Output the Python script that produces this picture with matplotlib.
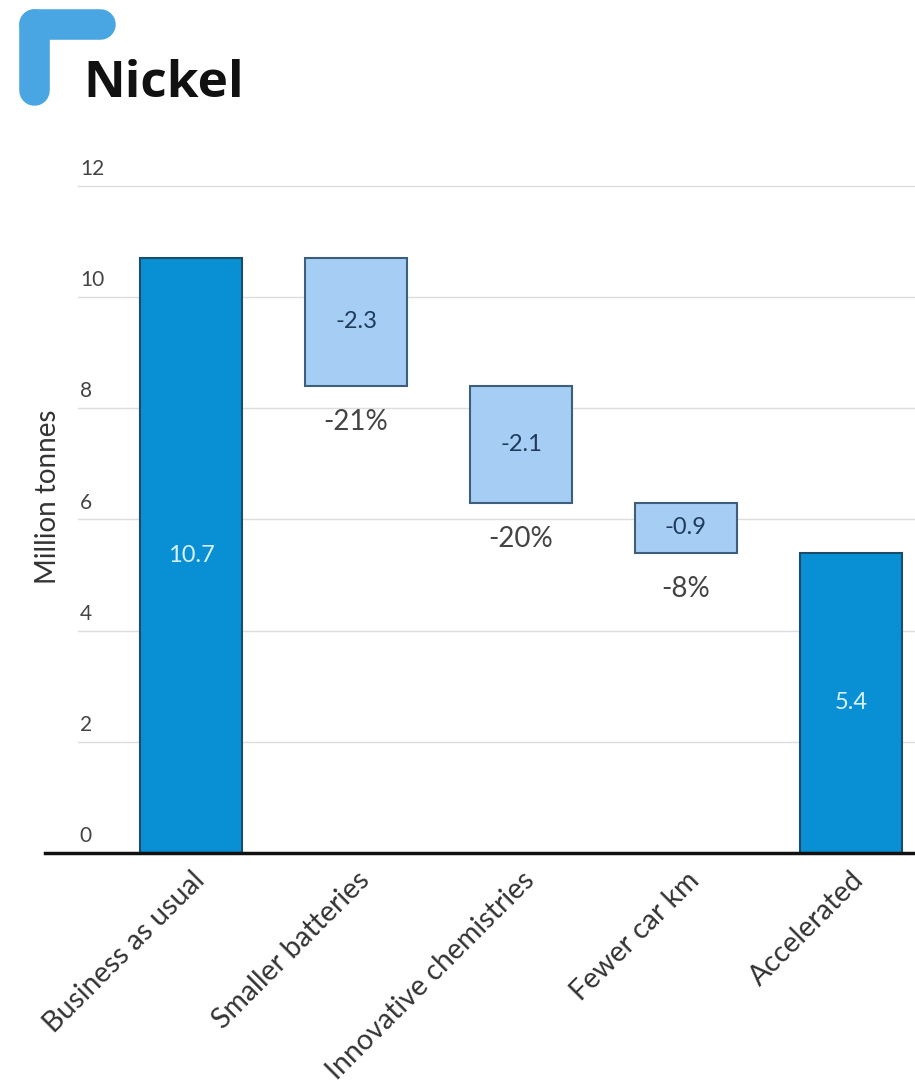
import matplotlib.pyplot as plt
from matplotlib.lines import Line2D

# Datos del gráfico
categories = ['Business as usual', 'Smaller batteries', 'Innovative chemistries',
              'Fewer car km', 'Accelerated']
start_total = 10.7
deltas = [-2.3, -2.1, -0.9]
delta_pct = ['-21%', '-20%', '-8%']
end_total = 5.4
y_ticks = [0, 2, 4, 6, 8, 10, 12]

plt.rcParams['font.family'] = ['Lato', 'DejaVu Sans']

fig = plt.figure(figsize=(9.15, 10.9), dpi=100)
W, H = 915, 1090

# decoración en forma de L
fig.add_artist(Line2D([34 / W, 34 / W], [1 - 24 / H, 1 - 90 / H], transform=fig.transFigure,
                      color='#4aa6e2', lw=22, solid_capstyle='round'))
fig.add_artist(Line2D([34 / W, 100 / W], [1 - 24 / H, 1 - 24 / H], transform=fig.transFigure,
                      color='#4aa6e2', lw=22, solid_capstyle='round'))
fig.text(83 / W, 1 - 84 / H, 'Nickel', fontsize=37, fontweight='bold', color='#111111',
         va='center', ha='left', family='Open Sans')

ax = fig.add_axes([45 / W, 1 - 853 / H, 870 / W, (853 - 170) / H])
ax.set_xlim(-0.885, 4.388)
ax.set_ylim(0, 12.28)

# líneas de cuadrícula y etiquetas del eje y
for v in y_ticks[1:]:
    ax.axhline(v, xmin=0.038, xmax=1, color='#dddddd', lw=1, zorder=0)
for v in y_ticks:
    ax.text(0.040, v + 0.3, str(v), transform=ax.get_yaxis_transform(),
            fontsize=15, color='#444444', va='center', ha='left')

bar_w = 0.62
main_color = '#0990d4'
main_edge = '#1b4d6b'
light_color = '#a6cef5'
light_edge = '#3d5f7c'

# barras de totales
ax.bar(0, start_total, width=bar_w, color=main_color, edgecolor=main_edge, lw=1.5, zorder=2)
ax.bar(4, end_total, width=bar_w, color=main_color, edgecolor=main_edge, lw=1.5, zorder=2)
ax.text(0, start_total / 2, f'{start_total}', ha='center', va='center', fontsize=17,
        color='#d9f1ff', zorder=3)
ax.text(4, end_total / 2, f'{end_total}', ha='center', va='center', fontsize=17,
        color='#d9f1ff', zorder=3)

# barras de variación
level = start_total
for i, (d, p) in enumerate(zip(deltas, delta_pct), start=1):
    bottom = level + d
    ax.bar(i, -d, bottom=bottom, width=bar_w, color=light_color, edgecolor=light_edge,
           lw=1.5, zorder=2)
    ax.text(i, bottom - d / 2, f'{d}', ha='center', va='center', fontsize=17,
            color='#1f3b5c', zorder=3)
    ax.text(i, bottom - 0.65, p, ha='center', va='center', fontsize=20, color='#444444')
    level = bottom

ax.set_xticks(range(len(categories)))
ax.set_xticklabels(categories, rotation=45, ha='right', rotation_mode='anchor',
                   fontsize=20.5, color='#333333')
ax.tick_params(axis='x', length=0, pad=10)
ax.set_yticks([])
for s in ['top', 'right', 'left']:
    ax.spines[s].set_visible(False)
ax.spines['bottom'].set_linewidth(2.5)
ax.spines['bottom'].set_color('#111111')

fig.text(48 / W, 1 - 497 / H, 'Million tonnes', rotation=90, fontsize=20, color='#333333',
         ha='center', va='center')

fig.savefig('out.png', dpi=100)
